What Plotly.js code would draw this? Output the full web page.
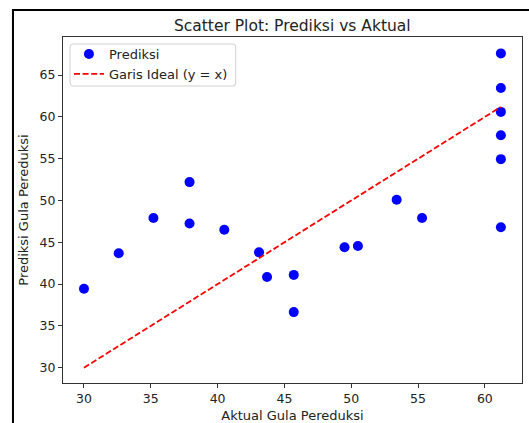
<!DOCTYPE html>
<html>
<head>
<meta charset="utf-8">
<script src="https://cdn.plot.ly/plotly-3.0.1.min.js"></script>
<style>html,body{margin:0;padding:0;background:#fff;}</style>
</head>
<body>
<div id="chart" style="width:529px;height:423px;"></div>
<script>
const aktual = [30.0, 32.6, 35.2, 37.9, 37.9, 40.5, 43.1, 43.7, 45.7, 45.7, 49.5, 50.5, 53.4, 55.3, 61.2, 61.2, 61.2, 61.2, 61.2, 61.2];
const prediksi = [39.45, 43.7, 47.9, 52.2, 47.25, 46.5, 43.8, 40.85, 41.1, 36.65, 44.4, 44.55, 50.1, 47.9, 67.6, 63.45, 60.6, 57.8, 54.95, 46.8];
const idealX = [30.0, 61.2];
const idealY = [30.0, 61.2];

const font = "DejaVu Sans, sans-serif";
const traces = [
  {x: aktual, y: prediksi, type: 'scatter', mode: 'markers', name: 'Prediksi',
   marker: {color: '#0000ff', size: 10}},
  {x: idealX, y: idealY, type: 'scatter', mode: 'lines', name: 'Garis Ideal (y = x)',
   line: {color: '#ff0000', width: 1.8, dash: '6px,2.6px'}}
];
const axisCommon = {
  showline: true, mirror: true, linecolor: '#333', linewidth: 1,
  ticks: 'outside', ticklen: 4, tickcolor: '#333', showgrid: false, zeroline: false,
  tickfont: {family: font, size: 12.5, color: '#222'}
};
// legend frame (rounded rectangle) in paper coordinates
const lx0 = 0.0153, lx1 = 0.3763, ly0 = 0.8584, ly1 = 0.9798, rx = 0.0065, ry = 0.0087;
const legendPath = `M ${lx0+rx},${ly1} L ${lx1-rx},${ly1} Q ${lx1},${ly1} ${lx1},${ly1-ry} ` +
  `L ${lx1},${ly0+ry} Q ${lx1},${ly0} ${lx1-rx},${ly0} L ${lx0+rx},${ly0} Q ${lx0},${ly0} ${lx0},${ly0+ry} ` +
  `L ${lx0},${ly1-ry} Q ${lx0},${ly1} ${lx0+rx},${ly1} Z`;
const layout = {
  width: 529, height: 423,
  margin: {l: 63, r: 7, t: 37, b: 40},
  paper_bgcolor: '#fff', plot_bgcolor: '#fff',
  font: {family: font, color: '#222'},
  title: {text: 'Scatter Plot: Prediksi vs Aktual', font: {family: font, size: 15.5, color: '#222'},
          x: 0.5525, xanchor: 'center', y: 0.939, yanchor: 'middle'},
  xaxis: Object.assign({}, axisCommon, {range: [28.43, 62.78], tickvals: [30,35,40,45,50,55,60],
          title: {text: 'Aktual Gula Pereduksi', font: {family: font, size: 13, color: '#222'}, standoff: 7}}),
  yaxis: Object.assign({}, axisCommon, {range: [28.17, 69.56], tickvals: [30,35,40,45,50,55,60,65],
          title: {text: 'Prediksi Gula Pereduksi', font: {family: font, size: 13, color: '#222'}, standoff: 8}}),
  showlegend: true,
  legend: {x: 0.013, y: 0.994, xanchor: 'left', yanchor: 'top', bgcolor: 'rgba(0,0,0,0)',
           borderwidth: 0, font: {family: font, size: 13, color: '#222'},
           tracegroupgap: 0},
  shapes: [
    {type: 'rect', xref: 'paper', yref: 'paper', x0: -0.109, x1: 1.2, y0: -0.3, y1: 1.078,
     line: {color: '#000', width: 2}, fillcolor: 'rgba(0,0,0,0)', layer: 'below'},
    {type: 'path', xref: 'paper', yref: 'paper', path: legendPath,
     line: {color: '#d0d0d0', width: 1}, fillcolor: 'rgba(255,255,255,0.8)', layer: 'above'}
  ]
};
Plotly.newPlot('chart', traces, layout, {displayModeBar: false, staticPlot: true});
</script>
</body>
</html>
